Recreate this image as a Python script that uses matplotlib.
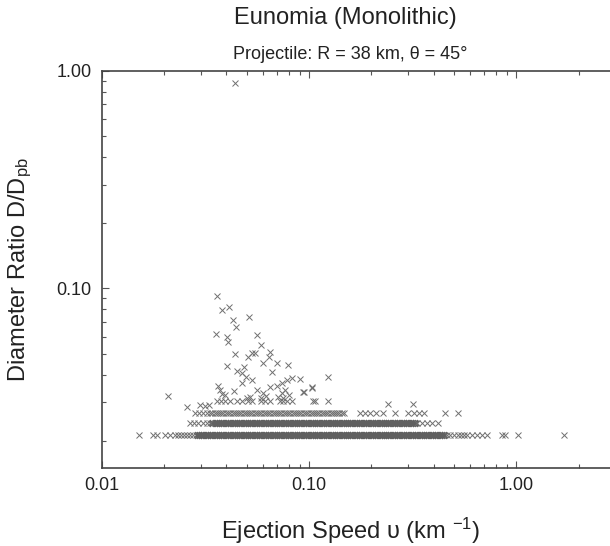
import matplotlib
matplotlib.use("Agg")
import matplotlib.pyplot as plt
from matplotlib.ticker import FixedLocator, FixedFormatter, LogLocator, NullFormatter

plt.rcParams["font.family"] = ["Liberation Sans", "DejaVu Sans"]
plt.rcParams["mathtext.fontset"] = "custom"
plt.rcParams["mathtext.rm"] = "Liberation Sans"
plt.rcParams["mathtext.it"] = "Liberation Sans:italic"

# D/Dpb levels of the four horizontal rows of smallest fragments
row_levels = [0.0212, 0.0241, 0.0267, 0.0304]

# ejection speeds (km/s) read along the dense band
band_speeds = [
    0.0288, 0.0295, 0.0302, 0.0310, 0.0318, 0.0326, 0.0334, 0.0342, 0.0351, 0.0360,
    0.0369, 0.0378, 0.0387, 0.0397, 0.0407, 0.0417, 0.0428, 0.0438, 0.0449, 0.0461,
    0.0472, 0.0484, 0.0496, 0.0509, 0.0521, 0.0534, 0.0548, 0.0561, 0.0575, 0.0590,
    0.0604, 0.0620, 0.0635, 0.0651, 0.0667, 0.0684, 0.0701, 0.0719, 0.0737, 0.0755,
    0.0774, 0.0793, 0.0813, 0.0833, 0.0854, 0.0876, 0.0898, 0.0920, 0.0943, 0.0967,
    0.0991, 0.102, 0.104, 0.107, 0.109, 0.112, 0.115, 0.118, 0.121, 0.124,
    0.127, 0.130, 0.133, 0.137, 0.140, 0.144, 0.147, 0.151, 0.155, 0.158,
    0.162, 0.166, 0.171, 0.175, 0.179, 0.184, 0.188, 0.193, 0.198, 0.203,
    0.208, 0.213, 0.219, 0.224, 0.230, 0.235, 0.241, 0.247, 0.253, 0.260,
    0.266, 0.273, 0.280, 0.287, 0.294, 0.301, 0.309, 0.317, 0.325, 0.333,
    0.341, 0.350, 0.358, 0.367, 0.376, 0.386, 0.396, 0.405, 0.416, 0.426,
    0.437, 0.448,
]

row1_left = [0.0152, 0.0177, 0.0185, 0.0202, 0.0214, 0.0226, 0.0233, 0.0241,
             0.0250, 0.0258, 0.0266, 0.0275]
row1_right = [0.462, 0.480, 0.500, 0.520, 0.540, 0.560, 0.577, 0.609, 0.643,
              0.679, 0.717, 0.850, 0.880, 1.02, 1.70]
row2_left = [0.0267, 0.0279, 0.0293, 0.0309, 0.0321, 0.0333]
row2_right = [0.331, 0.350, 0.370, 0.390, 0.420]
row3_left = [0.0282, 0.0295, 0.0309, 0.0322, 0.0333]
row3_right = [0.176, 0.186, 0.196, 0.210, 0.227, 0.260, 0.300, 0.320, 0.340,
              0.360, 0.450, 0.520]
row4_speeds = [0.0360, 0.0376, 0.0394, 0.0416, 0.0449, 0.0474, 0.0510, 0.0530,
               0.0590, 0.0612, 0.0648, 0.0724, 0.0752, 0.0781, 0.0826, 0.1049,
               0.1067, 0.1239]

# isolated larger fragments
scatter_speed = [
    0.0440, 0.0359, 0.0382, 0.0412, 0.0432, 0.0443, 0.0512, 0.0355, 0.0401, 0.0405,
    0.0561, 0.0587, 0.0440, 0.0533, 0.0548, 0.0506, 0.0648, 0.0640, 0.0401, 0.0603,
    0.0699, 0.0795, 0.0662, 0.0485, 0.0449, 0.0474, 0.0497, 0.0530, 0.0474, 0.0437,
    0.0366, 0.0373, 0.0380, 0.0394, 0.0699, 0.0738, 0.0648, 0.0781, 0.0826, 0.0906,
    0.0950, 0.1029, 0.123, 0.0738, 0.0603, 0.0560, 0.0210, 0.0257, 0.0315, 0.0937,
    0.1032, 0.0500, 0.0520, 0.0590, 0.0620, 0.0710, 0.0750, 0.0800, 0.0770, 0.240,
    0.318, 0.0298, 0.0330,
]
scatter_ratio = [
    0.875, 0.0925, 0.0795, 0.0823, 0.0715, 0.0666, 0.0736, 0.0615, 0.0600, 0.0569,
    0.0610, 0.0550, 0.0499, 0.0506, 0.0503, 0.0485, 0.0511, 0.0482, 0.0440, 0.0455,
    0.0455, 0.0444, 0.0414, 0.0437, 0.0418, 0.0407, 0.0392, 0.0378, 0.0369, 0.0337,
    0.0356, 0.0341, 0.0327, 0.0324, 0.0356, 0.0366, 0.0353, 0.0379, 0.0386, 0.0383,
    0.0335, 0.0347, 0.0393, 0.0329, 0.0329, 0.0341, 0.0320, 0.0286, 0.0288, 0.0335,
    0.0354, 0.0313, 0.0318, 0.0315, 0.0320, 0.0318, 0.0312, 0.0325, 0.0340, 0.0293,
    0.0293, 0.0290, 0.0290,
]

# dense parts of the two lowest rows (drawn with a heavier cross so they merge)
dense1 = band_speeds
dense2 = [v for v in band_speeds if 0.034 <= v <= 0.325]
sparse_rows = [
    (row1_left + row1_right, row_levels[0]),
    (row2_left + row2_right, row_levels[1]),
    (row3_left + [v for v in band_speeds if 0.034 <= v <= 0.147] + row3_right,
     row_levels[2]),
    (row4_speeds, row_levels[3]),
]

fig = plt.figure(figsize=(6.1, 5.46), dpi=100)
ax = fig.add_axes([0.1664, 0.1434, 0.8426, 0.7271])

thin = dict(linestyle="none", marker="x", markersize=5, markeredgewidth=0.7,
            color="#707070")
thick = dict(linestyle="none", marker="x", markersize=5, markeredgewidth=1.8,
             color="#606060")

ax.plot(dense1, [row_levels[0]] * len(dense1), **thick)
ax.plot(dense2, [row_levels[1]] * len(dense2), **thick)
for speeds, level in sparse_rows:
    ax.plot(speeds, [level] * len(speeds), **thin)
ax.plot(scatter_speed, scatter_ratio, **thin)

ax.set_xscale("log")
ax.set_yscale("log")
ax.set_xlim(0.01, 3.0)
ax.set_ylim(0.015, 1.0)

ax.xaxis.set_major_locator(FixedLocator([0.01, 0.1, 1.0]))
ax.xaxis.set_major_formatter(FixedFormatter(["0.01", "0.10", "1.00"]))
ax.yaxis.set_major_locator(FixedLocator([0.1, 1.0]))
ax.yaxis.set_major_formatter(FixedFormatter(["0.10", "1.00"]))
for axis in (ax.xaxis, ax.yaxis):
    axis.set_minor_locator(LogLocator(base=10, subs=range(2, 10)))
    axis.set_minor_formatter(NullFormatter())

ax.tick_params(which="both", direction="in", top=True, right=False,
               color="#555555", width=0.8, labelsize=13, labelcolor="#222222")
ax.tick_params(which="major", length=5)
ax.tick_params(which="minor", length=3)
ax.tick_params(axis="x", pad=7)
ax.tick_params(axis="y", pad=7)
for side in ("left", "bottom", "top"):
    ax.spines[side].set_color("#444444")
    ax.spines[side].set_linewidth(1.2)
ax.spines["right"].set_visible(False)

ax.set_xlabel("Ejection Speed υ (km $^{-1}$)", fontsize=17, color="#222222")
ax.xaxis.set_label_coords(0.485, -0.122)
ax.set_ylabel("Diameter Ratio D/D$_{\\mathrm{pb}}$", fontsize=17, color="#222222")
ax.yaxis.set_label_coords(-0.131, 0.5)

fig.text(0.567, 0.967, "Eunomia (Monolithic)", fontsize=17, color="#222222",
         ha="center", va="center")
fig.text(0.574, 0.901, "Projectile: R = 38 km, θ = 45°", fontsize=13,
         color="#222222", ha="center", va="center")

fig.savefig("out.png", dpi=100)
